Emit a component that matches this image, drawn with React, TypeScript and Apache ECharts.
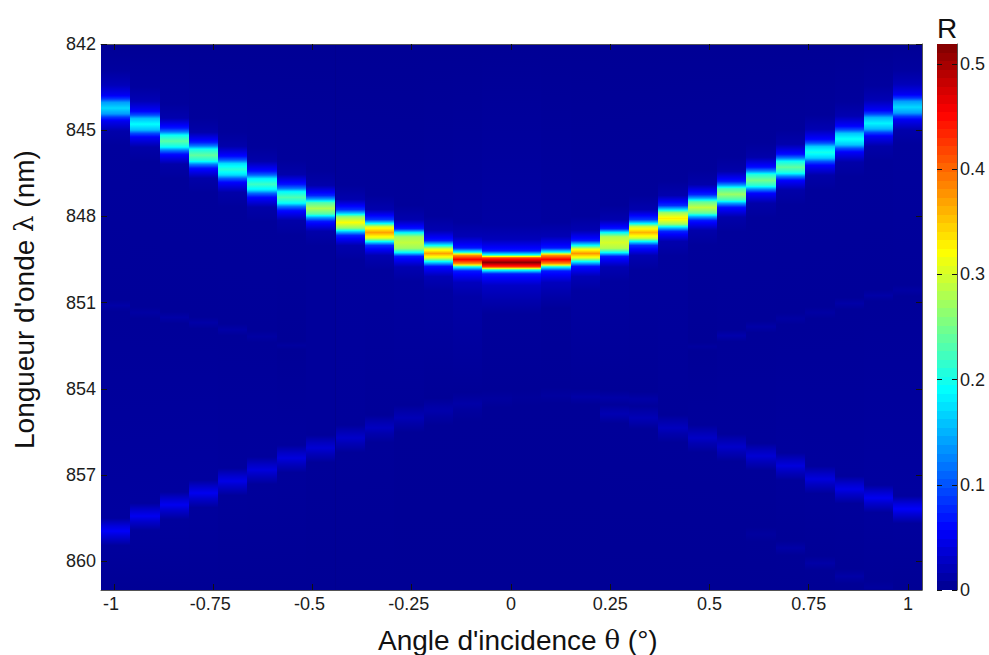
import React, { useEffect, useRef } from "react";
import * as echarts from "echarts";

const FONT = '"Liberation Sans", Arial, sans-serif';
const GREEK = '"DejaVu Serif", serif';

const angles = [
  -0.996, -0.922, -0.848, -0.774, -0.7, -0.627, -0.553, -0.479, -0.405, -0.331, -0.257, -0.183, -0.109, -0.035,
  0.039, 0.113, 0.187, 0.261, 0.335, 0.408, 0.482, 0.556, 0.63, 0.704, 0.778, 0.852, 0.926, 0.999,
];
const angleTicks = [-1, -0.75, -0.5, -0.25, 0, 0.25, 0.5, 0.75, 1];
const wavelengthTicks = [842, 845, 848, 851, 854, 857, 860];
const reflectivityTicks = [0, 0.1, 0.2, 0.3, 0.4, 0.5];
const edgeR = 0.003;

// [nm, R, nm, R, ...] for each column
const mainBand = [
  [842.93,.008,843.43,.022,843.78,.051,843.91,.085,844.03,.139,844.23,.17,844.43,.139,844.55,.085,844.68,.05,845.03,.014,845.53,.007],
  [843.49,.008,843.99,.02,844.34,.057,844.47,.095,844.59,.156,844.79,.19,844.99,.156,845.11,.095,845.24,.055,845.59,.013,846.09,.006],
  [844.08,.007,844.58,.016,844.93,.07,845.06,.12,845.18,.195,845.38,.235,845.58,.195,845.7,.12,845.83,.065,846.18,.013,846.68,.006],
  [844.57,.006,845.07,.014,845.42,.07,845.55,.122,845.67,.2,845.87,.24,846.07,.2,846.19,.122,846.32,.066,846.67,.013,847.17,.006],
  [845.06,.006,845.56,.014,845.91,.063,846.04,.105,846.16,.172,846.36,.21,846.56,.172,846.68,.105,846.81,.06,847.16,.013,847.66,.006],
  [845.58,.006,846.08,.014,846.43,.066,846.56,.11,846.68,.18,846.88,.22,847.08,.18,847.2,.11,847.33,.062,847.68,.013,848.18,.006],
  [846.04,.006,846.54,.014,846.89,.069,847.02,.115,847.14,.189,847.34,.23,847.54,.189,847.66,.115,847.79,.065,848.14,.013,848.64,.006],
  [846.42,.006,846.92,.014,847.27,.075,847.4,.14,847.52,.23,847.72,.28,847.92,.23,848.04,.14,848.17,.07,848.52,.014,849.02,.006],
  [846.91,.006,847.41,.016,847.76,.08,847.89,.16,848.01,.262,848.21,.32,848.41,.262,848.53,.16,848.66,.075,849.01,.016,849.51,.007],
  [847.26,.006,847.76,.016,848.11,.085,848.24,.185,848.36,.303,848.56,.37,848.76,.303,848.88,.185,849.01,.08,849.36,.018,849.86,.007],
  [847.61,.006,848.11,.016,848.43,.07,848.57,.19,848.71,.27,848.91,.29,849.11,.27,849.25,.19,849.39,.07,849.76,.018,850.26,.008],
  [847.99,.007,848.49,.018,848.84,.07,849.01,.19,849.13,.3,849.29,.37,849.45,.3,849.57,.19,849.74,.065,850.09,.02,850.59,.009],
  [848.2,.008,848.7,.02,849.1,.07,849.24,.19,849.34,.37,849.5,.46,849.66,.37,849.76,.19,849.9,.07,850.3,.024,850.8,.012],
  [848.3,.01,848.8,.022,849.2,.07,849.34,.2,849.44,.42,849.6,.515,849.76,.42,849.86,.2,850,.07,850.4,.028,850.9,.016],
  [848.3,.01,848.8,.022,849.2,.07,849.34,.2,849.44,.42,849.6,.515,849.76,.42,849.86,.2,850,.07,850.4,.028,850.9,.016],
  [848.2,.008,848.7,.02,849.1,.07,849.24,.19,849.34,.37,849.5,.46,849.66,.37,849.76,.19,849.9,.07,850.3,.024,850.8,.012],
  [847.99,.007,848.49,.018,848.84,.07,849.01,.19,849.13,.305,849.29,.375,849.45,.305,849.57,.19,849.74,.065,850.09,.02,850.59,.009],
  [847.61,.006,848.11,.016,848.43,.07,848.57,.195,848.71,.28,848.91,.3,849.11,.28,849.25,.195,849.39,.07,849.76,.018,850.26,.008],
  [847.26,.006,847.76,.016,848.11,.085,848.24,.18,848.36,.295,848.56,.36,848.76,.295,848.88,.18,849.01,.08,849.36,.018,849.86,.007],
  [846.77,.006,847.27,.016,847.62,.08,847.75,.165,847.87,.27,848.07,.33,848.27,.27,848.39,.165,848.52,.075,848.87,.016,849.37,.007],
  [846.39,.006,846.89,.014,847.24,.075,847.37,.145,847.49,.238,847.69,.29,847.89,.238,848.01,.145,848.14,.07,848.49,.014,848.99,.006],
  [845.93,.006,846.43,.014,846.78,.07,846.91,.135,847.03,.221,847.23,.27,847.43,.221,847.55,.135,847.68,.065,848.03,.014,848.53,.006],
  [845.44,.006,845.94,.014,846.29,.065,846.42,.125,846.54,.205,846.74,.25,846.94,.205,847.06,.125,847.19,.06,847.54,.013,848.04,.006],
  [844.99,.006,845.49,.015,845.84,.065,845.97,.12,846.09,.197,846.29,.24,846.49,.197,846.61,.12,846.74,.06,847.09,.013,847.59,.006],
  [844.47,.006,844.97,.018,845.32,.06,845.45,.1,845.57,.164,845.77,.2,845.97,.164,846.09,.1,846.22,.058,846.57,.013,847.07,.006],
  [844.01,.007,844.51,.018,844.86,.058,844.99,.098,845.11,.16,845.31,.195,845.51,.16,845.63,.098,845.76,.056,846.11,.013,846.61,.006],
  [843.46,.008,843.96,.02,844.31,.055,844.44,.093,844.56,.152,844.76,.185,844.96,.152,845.08,.093,845.21,.053,845.56,.013,846.06,.006],
  [842.9,.008,843.4,.022,843.75,.051,843.88,.085,844,.139,844.2,.17,844.4,.139,844.52,.085,844.65,.05,845,.014,845.5,.007],
];

const faintBand = [
  [850.9,.005,851.1,.012,851.3,.005],
  [851.15,.005,851.35,.01,851.55,.005],
  [851.32,.005,851.52,.012,851.72,.005],
  [851.5,.005,851.7,.012,851.9,.005],
  [851.74,.005,851.94,.012,852.14,.005],
  [851.98,.005,852.18,.01,852.38,.005],
  [852.35,.004,852.49,.008,852.63,.004],
  [], [], [], [], [], [],
  [851.4,.006],
  [851.4,.006],
  [851.2,.005],
  [], [], [], [],
  [852.39,.004,852.53,.008,852.67,.004],
  [851.95,.005,852.15,.015,852.35,.005],
  [851.64,.005,851.84,.012,852.04,.005],
  [851.36,.005,851.56,.01,851.76,.005],
  [851.15,.005,851.35,.01,851.55,.005],
  [850.83,.005,851.03,.012,851.23,.005],
  [850.55,.005,850.75,.012,850.95,.005],
  [850.38,.005,850.58,.01,850.78,.005],
];

const lowerBand = [
  [858.5,.008,858.77,.039,858.95,.055,859.13,.036,859.45,.007],
  [857.98,.008,858.25,.035,858.43,.05,858.61,.032,858.93,.007],
  [857.59,.008,857.86,.035,858.04,.05,858.22,.032,858.54,.007],
  [857.18,.008,857.45,.035,857.63,.05,857.81,.032,858.13,.007],
  [856.76,.007,857.03,.032,857.21,.045,857.39,.029,857.71,.006],
  [856.37,.007,856.64,.028,856.82,.04,857,.026,857.32,.006],
  [855.96,.007,856.23,.028,856.41,.04,856.59,.026,856.91,.006],
  [855.61,.006,855.88,.025,856.06,.035,856.24,.023,856.56,.005],
  [855.26,.006,855.53,.021,855.71,.03,855.89,.02,856.21,.005],
  [854.91,.005,855.18,.018,855.36,.025,855.54,.016,855.86,.005],
  [854.56,.005,854.83,.014,855.01,.02,855.19,.013,855.51,.004],
  [854.32,.004,854.59,.011,854.77,.015,854.95,.01,855.27,.004],
  [854.12,.004,854.37,.009,854.52,.012,854.72,.008,855.12,.004],
  [854.05,.004,854.35,.008,854.65,.004],
  [854,.004,854.3,.006,854.6,.004],
  [853.95,.004,854.24,.008,854.5,.004],
  [854,.004,854.28,.012,854.55,.004],
  [854.05,.004,854.31,.012,854.55,.006,854.87,.018,855.2,.005],
  [854.1,.004,854.35,.012,854.6,.006,855.01,.02,855.4,.005],
  [854.91,.005,855.18,.017,855.36,.024,855.54,.016,855.86,.005],
  [855.26,.006,855.53,.02,855.71,.028,855.89,.018,856.21,.005],
  [855.57,.006,855.84,.021,856.02,.03,856.2,.02,856.52,.005],
  [855.89,.006,856.16,.025,856.34,.035,856.52,.023,856.84,.005],
  [856.23,.007,856.5,.028,856.68,.04,856.86,.026,857.18,.006],
  [856.69,.007,856.96,.028,857.14,.04,857.32,.026,857.64,.006],
  [857.04,.007,857.31,.032,857.49,.045,857.67,.029,857.99,.006],
  [857.35,.008,857.62,.035,857.8,.05,857.98,.032,858.3,.007],
  [857.73,.008,858,.039,858.18,.055,858.36,.036,858.68,.007],
];

const deepBand = [
  [], [], [], [], [], [], [], [], [], [], [], [], [], [], [], [], [], [], [], [], [], [],
  [858.81,.004,859.06,.008,859.31,.004],
  [859.29,.004,859.54,.012,859.79,.004],
  [859.82,.004,860.07,.012,860.32,.004],
  [860.27,.004,860.52,.012,860.77,.004],
  [860.69,.004,860.94,.008],
  [],
];

const NM_MIN = 842;
const NM_MAX = 861;
const ANGLE_MIN = -1.0327;
const ANGLE_MAX = 1.0353;
const R_MAX = 0.519;
const HALF_STEP = (ANGLE_MAX - ANGLE_MIN) / angles.length / 2;

const jet = (r: number) => {
  const t = Math.min(1, Math.max(0, r / R_MAX)) * (63 / 64) + 1 / 64;
  const ch = (c: number) => Math.round(255 * Math.min(1, Math.max(0, 1.5 - Math.abs(4 * t - c))));
  return `rgb(${ch(3)},${ch(2)},${ch(1)})`;
};

const columnStops = (i: number) => {
  const flat = [NM_MIN, edgeR, ...mainBand[i], ...faintBand[i], ...lowerBand[i], ...deepBand[i], NM_MAX, edgeR];
  const stops: { offset: number; color: string }[] = [];
  for (let k = 0; k + 3 < flat.length; k += 2) {
    const [a, ra, b, rb] = [flat[k], flat[k + 1], flat[k + 2], flat[k + 3]];
    const n = Math.ceil(Math.abs(rb - ra) / 0.006) + 1;
    for (let s = 0; s < n; s++) {
      const f = s / n;
      stops.push({ offset: (a + (b - a) * f - NM_MIN) / (NM_MAX - NM_MIN), color: jet(ra + (rb - ra) * f) });
    }
  }
  stops.push({ offset: 1, color: jet(edgeR) });
  return stops;
};

const colorbarLevels = Array.from({ length: 64 }, (_, i) => [(i * R_MAX) / 64, ((i + 1) * R_MAX) / 64]);

const INK = "#1c1c1c";
const BOX = "#555555";
const tick = (len = 6) => ({ show: true, inside: true, length: len, lineStyle: { color: "#111", width: 1 } });

export default function App() {
  const ref = useRef<HTMLDivElement>(null);
  useEffect(() => {
    const chart = echarts.init(ref.current!, null, { renderer: "svg" });
    const xBase = { type: "value", min: ANGLE_MIN, max: ANGLE_MAX, gridIndex: 0, z: 10, splitLine: { show: false } };
    const yBase = { type: "value", min: NM_MIN, max: NM_MAX, inverse: true, gridIndex: 0, z: 10, splitLine: { show: false } };
    const cbBase = { type: "value", min: 0, max: R_MAX, gridIndex: 1, z: 10, splitLine: { show: false } };
    chart.setOption({
      animation: false,
      backgroundColor: "#ffffff",
      title: {
        text: "R",
        left: 937,
        top: 14,
        padding: 0,
        textStyle: { fontFamily: FONT, fontSize: 28, fontWeight: "normal", color: "#111" },
      },
      graphic: [
        {
          type: "text",
          x: 378,
          y: 640,
          style: {
            text: "Angle d'incidence {g|θ} (°)",
            fontFamily: FONT,
            fontSize: 28,
            fill: "#111",
            textAlign: "left",
            textVerticalAlign: "middle",
            rich: { g: { fontFamily: GREEK, fontSize: 26, fill: "#111" } },
          },
        },
        {
          type: "text",
          x: 24,
          y: 449,
          rotation: Math.PI / 2,
          style: {
            text: "Longueur d'onde {g|λ} (nm)",
            fontFamily: FONT,
            fontSize: 28,
            fill: "#111",
            textAlign: "left",
            textVerticalAlign: "middle",
            rich: { g: { fontFamily: GREEK, fontSize: 26, fill: "#111" } },
          },
        },
      ],
      grid: [
        { left: 101, top: 44, width: 821, height: 546, show: true, backgroundColor: "#00008f", borderWidth: 0, outerBoundsMode: "none" },
        { left: 937, top: 44, width: 20, height: 546, show: true, backgroundColor: "#00008f", borderWidth: 0, outerBoundsMode: "none" },
      ],
      xAxis: [
        {
          ...xBase,
          position: "bottom",
          axisLine: { show: true, onZero: false, lineStyle: { color: BOX } },
          axisTick: { ...tick(), customValues: angleTicks },
          axisLabel: {
            show: true,
            margin: 5,
            fontFamily: FONT,
            fontSize: 18,
            color: INK,
            customValues: angleTicks,
            formatter: (v: number) => (v < 0 ? `{n|${v}}` : `${v}`),
            rich: { n: { fontFamily: FONT, fontSize: 18, color: INK, padding: [0, 6, 0, 0] } },
          },
        },
        {
          ...xBase,
          position: "top",
          axisLine: { show: true, onZero: false, lineStyle: { color: BOX } },
          axisTick: { ...tick(), customValues: angleTicks },
          axisLabel: { show: false },
        },
        { type: "value", min: 0, max: 1, gridIndex: 1, show: false },
      ],
      yAxis: [
        {
          ...yBase,
          position: "left",
          axisLine: { show: false, onZero: false },
          axisTick: { ...tick(), customValues: wavelengthTicks },
          axisLabel: { show: true, margin: 5, fontFamily: FONT, fontSize: 18, color: INK, customValues: wavelengthTicks },
        },
        {
          ...yBase,
          position: "right",
          axisLine: { show: true, onZero: false, lineStyle: { color: BOX } },
          axisTick: { ...tick(), customValues: wavelengthTicks },
          axisLabel: { show: false },
        },
        {
          ...cbBase,
          position: "right",
          axisLine: { show: true, onZero: false, lineStyle: { color: BOX } },
          axisTick: { ...tick(5), customValues: reflectivityTicks },
          axisLabel: { show: true, margin: 3, fontFamily: FONT, fontSize: 18, color: INK, customValues: reflectivityTicks },
        },
        {
          ...cbBase,
          position: "left",
          axisLine: { show: false, onZero: false },
          axisTick: { ...tick(5), customValues: reflectivityTicks },
          axisLabel: { show: false },
        },
      ],
      series: [
        {
          type: "custom",
          xAxisIndex: 0,
          yAxisIndex: 0,
          clip: true,
          encode: { x: 0, y: [1, 2] },
          data: angles.map((a) => [a, NM_MIN, NM_MAX]),
          renderItem: (params: any, api: any) => {
            const a = api.value(0);
            const tl = api.coord([a - HALF_STEP, NM_MIN]);
            const br = api.coord([a + HALF_STEP, NM_MAX]);
            const x0 = Math.round(tl[0]);
            const x1 = Math.round(br[0]);
            return {
              type: "rect",
              shape: { x: x0, y: tl[1], width: x1 - x0, height: br[1] - tl[1] },
              style: { fill: new echarts.graphic.LinearGradient(0, 0, 0, 1, columnStops(params.dataIndex)) },
            };
          },
        },
        {
          type: "custom",
          xAxisIndex: 2,
          yAxisIndex: 2,
          encode: { y: [0, 1] },
          data: colorbarLevels,
          renderItem: (params: any, api: any) => {
            const lo = api.coord([0, api.value(0)]);
            const hi = api.coord([1, api.value(1)]);
            const yTop = Math.round(hi[1]);
            const yBottom = Math.round(lo[1]);
            return {
              type: "rect",
              shape: { x: lo[0], y: yTop, width: hi[0] - lo[0], height: yBottom - yTop },
              style: { fill: jet(api.value(0) + R_MAX / 128) },
            };
          },
        },
      ],
    });
    return () => chart.dispose();
  }, []);
  return <div ref={ref} style={{ position: "absolute", left: 0, top: 0, width: 989, height: 655 }} />;
}
